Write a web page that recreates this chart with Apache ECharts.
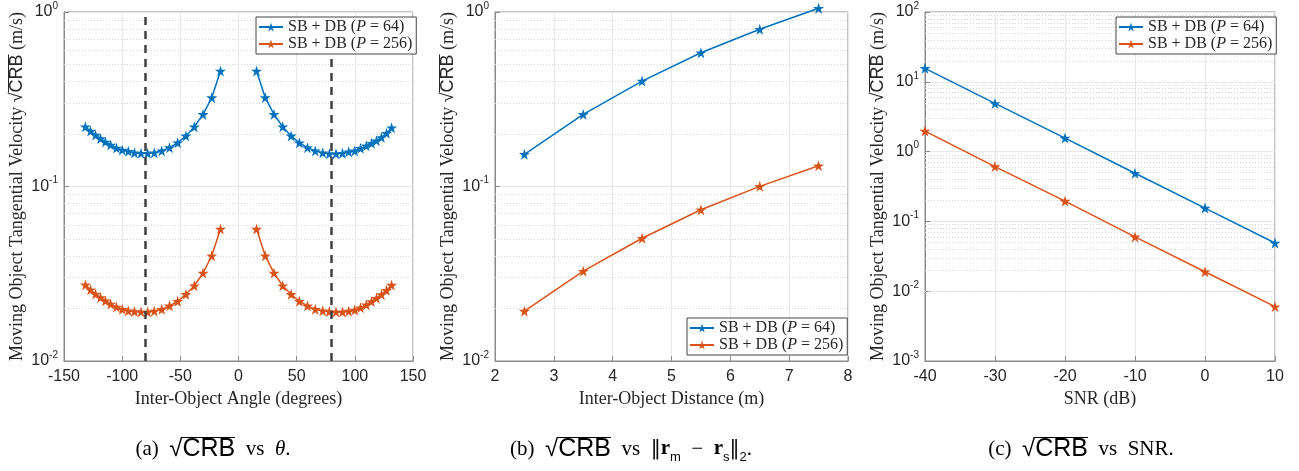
<!DOCTYPE html>
<html><head><meta charset="utf-8">
<script src="https://cdn.jsdelivr.net/npm/echarts@6/dist/echarts.min.js"></script>
<style>html,body{margin:0;padding:0;background:#fff}#c{width:1299px;height:471px}</style>
</head><body><div id="c"></div>
<script>
// ---- Panel (a): CRB vs inter-object angle ----
const angleLeft = [-131.6,-127.2,-122.9,-118.6,-114.4,-109.9,-104.9,-99.9,-94.7,-89.4,-83.8,-78.1,-72.4,-66.0,-59.3,-52.3,-45.2,-38.0,-30.5,-23.0,-15.5];
const angleRight = [15.5,23.0,30.5,38.0,45.2,52.3,59.3,66.0,72.4,78.1,83.8,89.4,94.7,99.9,104.9,109.9,114.4,118.6,122.9,127.2,131.6];
const angP64Left = [0.220,0.208,0.197,0.188,0.180,0.173,0.166,0.162,0.159,0.156,0.155,0.155,0.156,0.160,0.167,0.178,0.195,0.220,0.259,0.323,0.459];
const angP64Right = [0.459,0.323,0.259,0.220,0.195,0.178,0.167,0.160,0.156,0.154,0.154,0.155,0.158,0.160,0.1655,0.171,0.177,0.183,0.191,0.202,0.217];
const angP256Left = [0.0273,0.0256,0.0242,0.0231,0.0221,0.0212,0.0204,0.0198,0.0194,0.0192,0.0191,0.0191,0.0193,0.0198,0.0207,0.0220,0.0241,0.0270,0.0319,0.0401,0.0570];
const angP256Right = [0.0570,0.0401,0.0319,0.0270,0.0241,0.0220,0.0207,0.0198,0.0194,0.0192,0.0191,0.0191,0.0193,0.0196,0.0202,0.0210,0.0219,0.0229,0.0240,0.0254,0.0272];
const angleMarkers = [-80, 80];
// ---- Panel (b): CRB vs inter-object distance ----
const distances = [2.5,3.5,4.5,5.5,6.5,7.5];
const distP64 = [0.153,0.259,0.402,0.584,0.796,1.05];
const distP256 = [0.0193,0.0327,0.0505,0.0736,0.1002,0.1316];
// ---- Panel (c): CRB vs SNR ----
const snr = [-40,-30,-20,-10,0,10];
const snrP64 = [15.6,4.9,1.56,0.49,0.155,0.049];
const snrP256 = [1.97,0.61,0.195,0.060,0.019,0.006];
// ---- texts ----
const seriesNames = ['SB + DB (P = 64)','SB + DB (P = 256)'];
const xNames = ['Inter-Object Angle (degrees)','Inter-Object Distance (m)','SNR (dB)'];
const yName = '{s|Moving Object Tangential Velocity }{r|√}{c|CRB}{s| (m/s)}';
const captions = [
  '{t|(a)  }{r|√}{c|CRB}{t|  vs  }{i|θ}{t|.}',
  '{t|(b)  }{r|√}{c|CRB}{t|  vs  }{n|‖}{bf|r}{sb|m}{t|  −  }{bf|r}{sb|s}{n|‖}{sb|2}{t|.}',
  '{t|(c)  }{r|√}{c|CRB}{t|  vs  SNR.}'
];

const BLUE = '#0072BD', ORANGE = '#D95319';
const STAR = 'path://M50 0 L61.23 34.55 L97.55 34.55 L68.16 55.9 L79.39 90.45 L50 69.1 L20.61 90.45 L31.84 55.9 L2.45 34.55 L38.77 34.55 Z';
const SANS = 'Liberation Sans', SERIF = 'Liberation Serif';
const AX = '#8a8a8a', TXT = '#262626';

// overline image used as background of the "CRB" token (draws the radical bar)
function barImage(color){
  const cv = document.createElement('canvas'); cv.width = 4; cv.height = 100;
  const ctx = cv.getContext('2d'); ctx.fillStyle = color; ctx.fillRect(0, 0, 4, 7);
  return cv;
}
const BAR_TXT = barImage(TXT), BAR_BLK = barImage('#000');

const grids = [
  {left: 64, top: 12, width: 349, height: 349},
  {left: 495, top: 12, width: 353, height: 349},
  {left: 925, top: 12, width: 350, height: 349}
];
const xRanges = [[-150,150,50],[2,8,1],[-40,10,10]];
const yRanges = [[0.01,1],[0.01,1],[0.001,100]];

function zip(xs, ys){ return xs.map((x,i)=>[x, ys[i]]); }
function logLabel(v){ const e = Math.round(Math.log10(v)); return '{b|10}{e|' + e + '}'; }

const xAxes = grids.map((g,i)=>({
  type:'value', gridIndex:i, min:xRanges[i][0], max:xRanges[i][1], interval:xRanges[i][2],
  axisLine:{show:true, onZero:false, lineStyle:{color:AX}},
  axisTick:{show:true, inside:true, length:5, lineStyle:{color:AX}},
  splitLine:{show:true, lineStyle:{color:'#e8e8e8'}},
  axisLabel:{fontFamily:SANS, fontSize:16, color:TXT, margin:8},
  name:xNames[i], nameLocation:'middle', nameGap:26,
  nameTextStyle:{fontFamily:SERIF, fontSize:18, color:TXT}
}));
const yAxes = grids.map((g,i)=>({
  type:'log', logBase:10, gridIndex:i, min:yRanges[i][0], max:yRanges[i][1],
  axisLine:{show:true, onZero:false, lineStyle:{color:AX}},
  axisTick:{show:true, inside:true, length:5, lineStyle:{color:AX}},
  splitLine:{show:true, lineStyle:{color:'#e8e8e8'}},
  axisLabel:{formatter:logLabel, margin:6, rich:{
    b:{fontFamily:SANS, fontSize:16, color:TXT, lineHeight:22},
    e:{fontFamily:SANS, fontSize:10, color:TXT, lineHeight:10, verticalAlign:'top'}
  }},
  name:yName, nameLocation:'middle', nameGap:36,
  nameTextStyle:{rich:{
    s:{fontFamily:SERIF, fontSize:18, color:TXT, lineHeight:22},
    r:{fontFamily:SANS, fontSize:18, color:TXT, lineHeight:22},
    c:{fontFamily:SANS, fontSize:18, color:TXT, lineHeight:19, backgroundColor:{image:BAR_TXT}}
  }}
}));

function minorLines(lo, hi){
  const out = [];
  for (let d = lo; d < hi; d *= 10) for (let k = 2; k <= 9; k++) out.push({yAxis: +(k*d).toPrecision(3)});
  return out;
}
function gridHelper(i){
  const [lo, hi] = yRanges[i];
  return {type:'line', name:'_g'+i, xAxisIndex:i, yAxisIndex:i, data:[], z:1, silent:true,
    markLine:{silent:true, z:1, symbol:['none','none'], label:{show:false}, animation:false,
      lineStyle:{color:'#d4d4d4', type:[1,2], width:1}, data:minorLines(lo, hi)}};
}
function dashHelper(i, xs){
  return {type:'line', name:'_d'+i, xAxisIndex:i, yAxisIndex:i, data:[], z:3, silent:true,
    markLine:{silent:true, z:3, symbol:['none','none'], label:{show:false}, animation:false,
      lineStyle:{color:'#404040', type:[8,6], width:2.5}, data:xs.map(v=>({xAxis:v}))}};
}
function ser(name, i, pts, color){
  return {type:'line', name:name, xAxisIndex:i, yAxisIndex:i, data:pts, z:2, clip:false,
    symbol:STAR, symbolSize:11, showAllSymbol:true, animation:false,
    lineStyle:{color:color, width:1.5}, itemStyle:{color:color}};
}

function legendFmt(name){
  const m = name.match(/P = (\d+)/);
  return '{a|SB + DB (}{i|P}{a| = ' + m[1] + ')}';
}
function legend(left, top){
  return {data:seriesNames, left:left, top:top, orient:'vertical', itemGap:1, itemWidth:24, itemHeight:11,
    padding:[2,4,2,2], backgroundColor:'#fff', borderColor:'#444', borderWidth:1, selectedMode:false, z:10,
    formatter:legendFmt,
    textStyle:{rich:{a:{fontFamily:SERIF, fontSize:16, color:TXT}, i:{fontFamily:SERIF, fontSize:16, fontStyle:'italic', color:TXT}}}};
}

const capRich = {
  t:{fontFamily:SERIF, fontSize:21, fill:'#000', lineHeight:30},
  i:{fontFamily:SERIF, fontSize:21, fontStyle:'italic', fill:'#000'},
  n:{fontFamily:'DejaVu Serif', fontSize:20, fill:'#000'},
  r:{fontFamily:SANS, fontSize:24, fill:'#000'},
  c:{fontFamily:SANS, fontSize:25, fill:'#000', lineHeight:27, backgroundColor:{image:BAR_BLK}},
  bf:{fontFamily:SERIF, fontSize:21, fontWeight:'bold', fill:'#000'},
  sb:{fontFamily:SANS, fontSize:13, fill:'#000', verticalAlign:'bottom', lineHeight:13}
};
const capX = [213, 631, 1081];

const option = {
  backgroundColor:'#fff',
  animation:false,
  grid: grids.map(g=>Object.assign({show:true, borderColor:AX, borderWidth:1, containLabel:false}, g)),
  xAxis: xAxes,
  yAxis: yAxes,
  legend: [legend(256,17), legend(687,318), legend(1116,17)],
  series: [
    gridHelper(0), gridHelper(1), gridHelper(2), dashHelper(0, angleMarkers),
    ser(seriesNames[0], 0, zip(angleLeft, angP64Left), BLUE),
    ser(seriesNames[0], 0, zip(angleRight, angP64Right), BLUE),
    ser(seriesNames[1], 0, zip(angleLeft, angP256Left), ORANGE),
    ser(seriesNames[1], 0, zip(angleRight, angP256Right), ORANGE),
    ser(seriesNames[0], 1, zip(distances, distP64), BLUE),
    ser(seriesNames[1], 1, zip(distances, distP256), ORANGE),
    ser(seriesNames[0], 2, zip(snr, snrP64), BLUE),
    ser(seriesNames[1], 2, zip(snr, snrP256), ORANGE)
  ],
  graphic: captions.map((c,i)=>({type:'text', x:capX[i], y:449, silent:true,
    style:{text:c, align:'center', verticalAlign:'middle', rich:capRich}}))
};
const chart = echarts.init(document.getElementById('c'), null, {renderer:'canvas'});
chart.setOption(option);
</script></body></html>
